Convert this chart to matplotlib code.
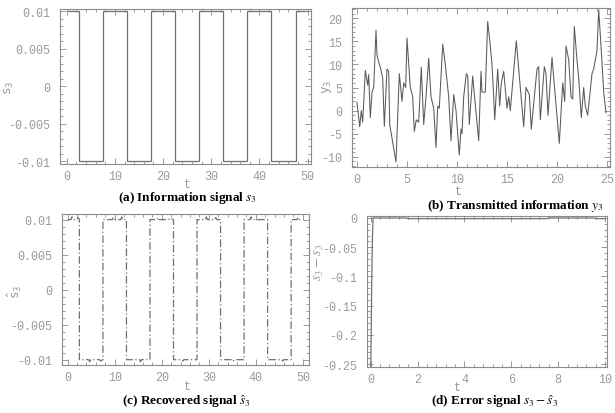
import matplotlib
matplotlib.use("Agg")
import matplotlib.pyplot as plt
from matplotlib.ticker import AutoMinorLocator

# ---------------- data ----------------
info_edges = [0, 2.5, 7.5, 12.5, 17.5, 22.5, 27.5, 32.5, 37.5, 42.5, 47.5, 50]
info_levels = [0.01, -0.01, 0.01, -0.01, 0.01, -0.01, 0.01, -0.01, 0.01, -0.01, 0.01]

y3_t = [0.00, 0.27, 0.43, 0.57, 0.83, 1.07, 1.17, 1.33, 1.50, 1.67,
        1.90, 2.00, 2.23, 2.33, 2.57, 2.73, 3.00, 3.17, 3.27, 3.90,
        4.23, 4.50, 4.67, 4.87, 5.00, 5.33, 5.57, 5.73, 5.93, 6.17,
        6.43, 6.67, 6.90, 7.17, 7.40, 7.67, 7.90, 8.07, 8.23, 8.57,
        8.83, 9.17, 9.40, 9.67, 9.90, 10.23, 10.40, 10.50, 10.67, 10.93,
        11.07, 11.23, 11.57, 11.67, 12.17, 12.40, 12.50, 12.83, 13.07, 13.33,
        13.50, 13.67, 13.77, 14.07, 14.27, 14.43, 14.67, 15.00, 15.17, 15.33,
        15.93, 16.33, 16.67, 16.90, 17.23, 17.43, 18.00, 18.17, 18.33, 18.73,
        18.90, 19.10, 19.50, 20.23, 20.57, 20.77, 20.90, 21.17, 21.40, 21.57,
        21.73, 22.00, 22.17, 22.43, 22.67, 22.83, 23.07, 23.50, 23.67, 24.00,
        24.17, 24.40, 24.67, 24.90]
y3_v = [1.8, -3.5, 0.0, -2.5, 8.7, 5.5, 7.8, -1.5, 4.0, 5.0,
        17.4, 12.0, 10.0, 9.4, 7.0, -3.4, 9.0, 8.5, -3.0, -11.1,
        8.0, 2.0, 6.0, 5.0, 15.7, 5.0, 3.0, -4.5, -2.0, -2.5,
        9.4, -3.0, 3.0, 11.3, 3.0, 0.5, -8.0, 1.0, 0.5, 14.4,
        10.0, 3.0, -6.5, 3.5, 0.0, -9.6, -4.0, -5.0, 3.0, 8.0,
        7.5, -3.0, 7.5, 5.0, -6.5, 8.5, 4.0, 4.0, 19.3, 14.0,
        10.0, 3.0, -2.0, 9.0, 1.0, 6.0, 8.5, 0.5, 3.0, 0.0,
        15.1, 5.0, -3.5, 5.0, 3.5, -4.0, 9.0, 9.5, -2.0, 9.5,
        8.0, -1.0, 11.5, -7.1, 6.0, 2.0, 14.0, 11.0, 3.0, 2.5,
        18.2, 11.0, 7.0, -1.5, 5.0, 1.0, -1.0, 8.0, 9.0, 13.0,
        21.8, 14.0, 4.0, -0.5]

rec_t = [0.0, 0.7, 0.9, 1.1, 2.0, 2.2, 2.5,
         2.5, 4.5, 4.7, 4.9, 6.8, 7.0, 7.5,
         7.5, 9.5, 9.7, 9.9, 11.3, 11.5, 11.7, 12.5,
         12.5, 15.3, 15.5, 15.7, 17.5,
         17.5, 19.0, 19.2, 19.4, 21.5, 21.7, 22.5,
         22.5, 24.3, 24.5, 24.7, 27.5,
         27.5, 29.3, 29.5, 29.7, 31.3, 31.5, 31.7, 32.5,
         32.5, 35.0, 35.2, 35.4, 37.5,
         37.5, 38.8, 39.0, 39.2, 42.5,
         42.5, 45.5, 45.7, 45.9, 47.5,
         47.5, 48.8, 49.0, 49.2, 50.0]
rec_s = [0.0100, 0.0100, 0.0104, 0.0100, 0.0100, 0.0103, 0.0100,
         -0.0100, -0.0100, -0.0103, -0.0100, -0.0100, -0.0102, -0.0100,
         0.0100, 0.0100, 0.0103, 0.0100, 0.0100, 0.0104, 0.0100, 0.0100,
         -0.0100, -0.0100, -0.0103, -0.0100, -0.0100,
         0.0100, 0.0100, 0.0103, 0.0100, 0.0100, 0.0102, 0.0100,
         -0.0100, -0.0100, -0.0102, -0.0100, -0.0100,
         0.0100, 0.0100, 0.0104, 0.0100, 0.0100, 0.0103, 0.0100, 0.0100,
         -0.0100, -0.0100, -0.0102, -0.0100, -0.0100,
         0.0100, 0.0100, 0.0104, 0.0100, 0.0100,
         -0.0100, -0.0100, -0.0102, -0.0100, -0.0100,
         0.0100, 0.0100, 0.0103, 0.0100, 0.0100]

err_t = [0.0, 0.02, 0.04, 0.07, 0.10, 1.5, 1.6, 7.5, 7.6, 9.5, 9.6, 10.0]
err_v = [-0.255, -0.20, -0.12, -0.04, 0.0, 0.0, -0.0012, -0.0012, 0.0, 0.0, -0.0012, -0.0012]

ticks_a_x = [0, 10, 20, 30, 40, 50]
ticks_a_y = [-0.01, -0.005, 0, 0.005, 0.01]
labels_a_y = ["-0.01", "-0.005", "0", "0.005", "0.01"]
ticks_b_x = [0, 5, 10, 15, 20, 25]
ticks_b_y = [-10, -5, 0, 5, 10, 15, 20]
ticks_d_x = [0, 2, 4, 6, 8, 10]
ticks_d_y = [-0.25, -0.2, -0.15, -0.1, -0.05, 0]
labels_d_y = ["-0.25", "-0.2", "-0.15", "-0.1", "-0.05", "0"]

# ---------------- style ----------------
W, H = 615, 414
fig = plt.figure(figsize=(W / 100, H / 100), dpi=100)
fig.patch.set_facecolor("white")

GRAY = "#8c8c8c"
TICKGRAY = "#9a9a9a"
TICKFONT = "Liberation Mono"
CAPFONT = "Liberation Serif"


def fr(left, top, right, bottom):
    return [left / W, 1 - bottom / H, (right - left) / W, (bottom - top) / H]


def style(ax, xt, yt, ylabels=None, xminor=5, yminor=5):
    for s in ax.spines.values():
        s.set_color(GRAY)
        s.set_linewidth(0.8)
    ax.set_xticks(xt)
    ax.set_yticks(yt)
    ax.set_xticklabels([str(v) for v in xt])
    if ylabels is not None:
        ax.set_yticklabels(ylabels)
    else:
        ax.set_yticklabels([str(v) for v in yt])
    ax.xaxis.set_minor_locator(AutoMinorLocator(xminor))
    ax.yaxis.set_minor_locator(AutoMinorLocator(yminor))
    ax.tick_params(which="both", direction="in", top=True, right=True,
                   color=GRAY, labelcolor=TICKGRAY, labelsize=8.5, width=0.6)
    ax.tick_params(which="major", length=4)
    ax.tick_params(which="minor", length=2)
    ax.tick_params(axis="x", which="major", pad=4)
    ax.tick_params(axis="y", which="major", pad=7)
    for lab in ax.get_xticklabels() + ax.get_yticklabels():
        lab.set_fontfamily(TICKFONT)


def caption(x, y, s):
    fig.text(x / W, 1 - y / H, s, ha="center", va="center",
             fontsize=9.5, fontweight="bold", family=CAPFONT,
             math_fontfamily="stix", color="black")


def tlabel(x, y):
    fig.text(x / W, 1 - y / H, "t", ha="center", va="center",
             fontsize=8.5, family=TICKFONT, color=TICKGRAY)


def ylab(x, y, s, mf="dejavusans", size=9):
    fig.text(x / W, 1 - y / H, s, ha="center", va="center", rotation=90,
             fontsize=size, family=TICKFONT, color=TICKGRAY, math_fontfamily=mf)


# (a) information signal
axa = fig.add_axes(fr(60, 10, 311, 165))
axa.stairs(info_levels, info_edges, baseline=None, color="#707070", linewidth=0.9)
axa.set_xlim(-1.4, 50.7)
axa.set_ylim(-0.0104, 0.0103)
style(axa, ticks_a_x, ticks_a_y, labels_a_y)
caption(187, 198, r"(a) Information signal $s_3$")
tlabel(187, 185)
ylab(9, 88, r"$\mathtt{s}_{\mathtt{3}}$")

# (b) transmitted information
axb = fig.add_axes(fr(352, 9, 610, 168))
axb.plot(y3_t, y3_v, color="#5a5a5a", linewidth=0.75)
axb.set_xlim(-0.5, 25.3)
axb.set_ylim(-12.2, 22.2)
style(axb, ticks_b_x, ticks_b_y)
caption(515, 206, r"(b) Transmitted information $y_3$")
tlabel(458, 192)
ylab(327, 87, r"$\mathtt{y}_{\mathtt{3}}$")

# (c) recovered signal
axc = fig.add_axes(fr(62, 215, 309, 366))
axc.plot(rec_t, rec_s, color="#707070", linewidth=0.9,
         linestyle=(0, (6, 2, 1, 2)))
axc.set_xlim(-1.2, 51.3)
axc.set_ylim(-0.01076, 0.0108)
style(axc, ticks_a_x, ticks_a_y, labels_a_y)
caption(186, 402, r"(c) Recovered signal $\hat{s}_3$")
tlabel(187, 387)
ylab(15, 292, r"$\hat{\mathtt{s}}_{\mathtt{3}}$")

# (d) error signal
axd = fig.add_axes(fr(367, 217, 607, 368))
axd.plot(err_t, err_v, color="#707070", linewidth=0.9)
axd.set_xlim(-0.158, 10.085)
axd.set_ylim(-0.2551, 0.0034)
style(axd, ticks_d_x, ticks_d_y, labels_d_y)
caption(495, 402, r"(d) Error signal $s_3-\hat{s}_3$")
tlabel(457, 388)
ylab(317, 262, r"$s_3-\hat{s}_3$", mf="stix", size=10.5)

fig.savefig("out.png", dpi=100, facecolor="white")
